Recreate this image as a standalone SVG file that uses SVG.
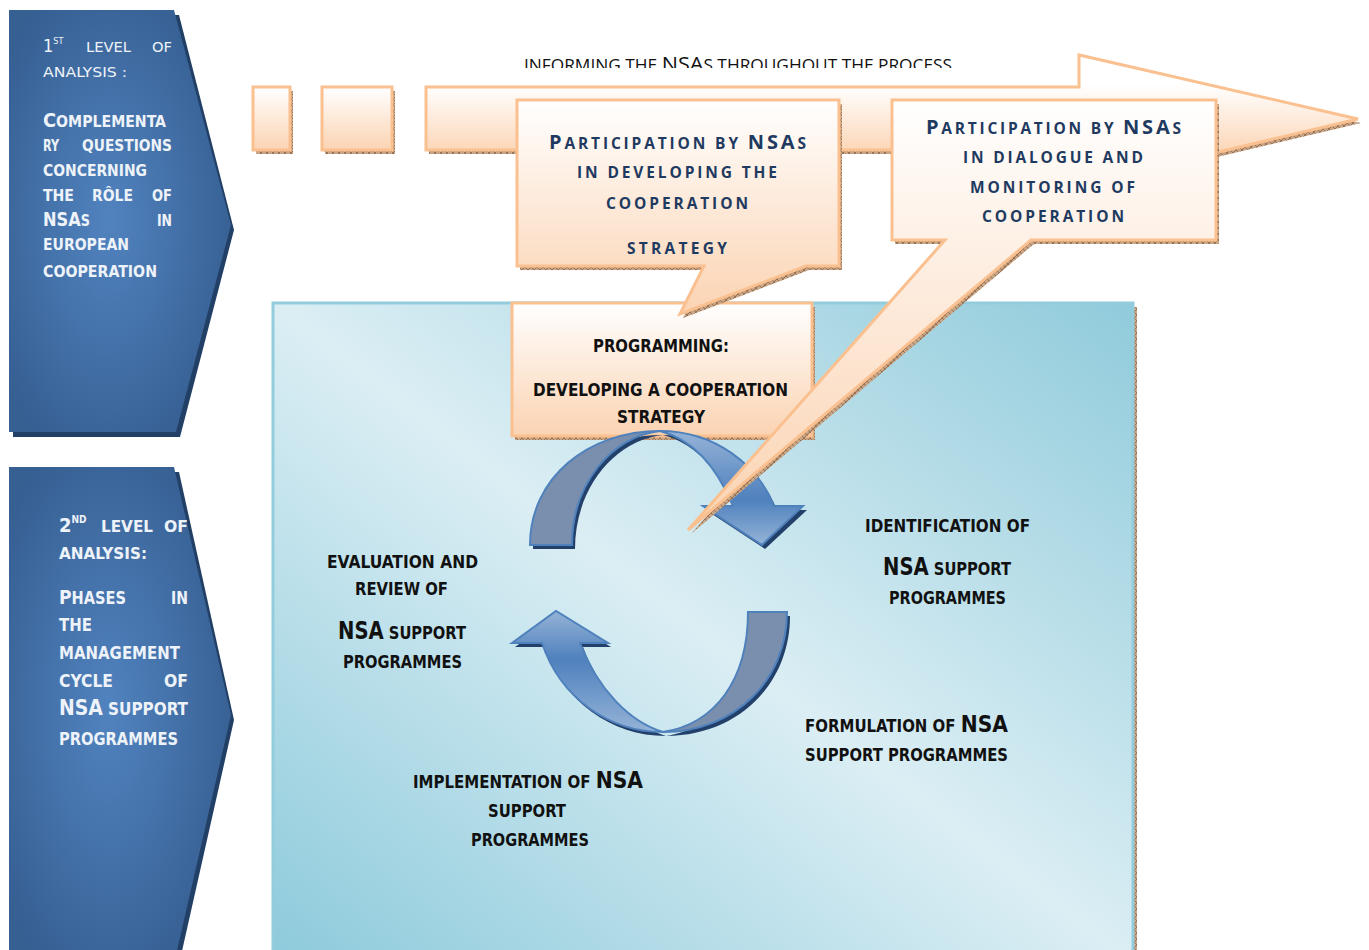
<svg xmlns="http://www.w3.org/2000/svg" width="1369" height="950" viewBox="0 0 1369 950">
<defs>
  <radialGradient id="panelGrad" cx="0.45" cy="0.5" r="0.6">
    <stop offset="0" stop-color="#5183bf"/>
    <stop offset="1" stop-color="#365f92"/>
  </radialGradient>
  <linearGradient id="peachV" x1="0" y1="0" x2="0" y2="1">
    <stop offset="0" stop-color="#ffffff"/>
    <stop offset="1" stop-color="#fbd3b2"/>
  </linearGradient>
  <linearGradient id="arrowGrad" gradientUnits="userSpaceOnUse" x1="0" y1="85" x2="0" y2="160">
    <stop offset="0" stop-color="#ffffff"/>
    <stop offset="1" stop-color="#fbd1ae"/>
  </linearGradient>
  <linearGradient id="boxGrad" x1="1" y1="0" x2="0" y2="1">
    <stop offset="0" stop-color="#90cbdb"/>
    <stop offset="0.5" stop-color="#dbeef4"/>
    <stop offset="1" stop-color="#8ccadb"/>
  </linearGradient>
  <linearGradient id="frontTop" x1="0" y1="0" x2="0" y2="1">
    <stop offset="0" stop-color="#95b3d7"/>
    <stop offset="0.6" stop-color="#4f81bd"/>
    <stop offset="1" stop-color="#95b3d7"/>
  </linearGradient>
  <linearGradient id="frontBot" x1="0" y1="1" x2="0" y2="0">
    <stop offset="0" stop-color="#95b3d7"/>
    <stop offset="0.6" stop-color="#4f81bd"/>
    <stop offset="1" stop-color="#95b3d7"/>
  </linearGradient>
  <pattern id="hatch" width="6" height="6" patternUnits="userSpaceOnUse">
    <rect width="6" height="6" fill="#c9a585"/>
    <path d="M0,6 L6,0 M0,0 L6,6" stroke="#8d6646" stroke-width="0.8"/>
  </pattern>
  <clipPath id="topClip"><rect x="0" y="0" width="1369" height="68"/></clipPath>
  <style>
    .panel { fill: url(#panelGrad); }
    .pshadow { fill: #223f66; }
    .ptxt { font-family: "DejaVu Sans Condensed", "DejaVu Sans", sans-serif; font-stretch: condensed; fill: #eef3f9; font-weight: bold; }
    .plight { font-weight: normal; }
    .peach { stroke: #fac090; stroke-width: 3; }
    .hshadow { fill: url(#hatch); }
    .ctxt { font-family: "Open Sans", "Noto Sans", sans-serif; font-weight: 700; fill: #1f3a60; }
    .ltxt { font-family: "DejaVu Sans Condensed", "DejaVu Sans", sans-serif; font-stretch: condensed; font-weight: bold; fill: #111111; }
    .toptxt { font-family: "Open Sans", "Noto Sans", sans-serif; fill: #111111; }
    .back { fill: #7a8fae; stroke: #4f81bd; stroke-width: 2; }
    .cshadow { fill: #22406a; }
  </style>
</defs>

<g id="panel1">
  <polygon class="pshadow" points="13,15 179,15 234,230 180,437 13,437"/>
  <polygon class="panel" points="9,10 174,10 231,225 176,432 9,432"/>
  <text class="ptxt plight" x="43" y="52" font-size="18">1<tspan font-size="9" dy="-8">ST</tspan></text>
  <text class="ptxt plight" x="86" y="52" font-size="14" textLength="45" lengthAdjust="spacingAndGlyphs">LEVEL</text>
  <text class="ptxt plight" x="152" y="52" font-size="14" textLength="20" lengthAdjust="spacingAndGlyphs">OF</text>
  <text class="ptxt plight" x="43" y="77" font-size="14" textLength="84" lengthAdjust="spacingAndGlyphs">ANALYSIS :</text>
  <text class="ptxt" x="43" y="127" font-size="15" textLength="123" lengthAdjust="spacingAndGlyphs"><tspan font-size="19">C</tspan>OMPLEMENTA</text>
  <text class="ptxt" x="43" y="151" font-size="15" textLength="16" lengthAdjust="spacingAndGlyphs">RY</text>
  <text class="ptxt" x="82" y="151" font-size="15" textLength="90" lengthAdjust="spacingAndGlyphs">QUESTIONS</text>
  <text class="ptxt" x="43" y="176" font-size="15" textLength="104" lengthAdjust="spacingAndGlyphs">CONCERNING</text>
  <text class="ptxt" x="43" y="201" font-size="15" textLength="31" lengthAdjust="spacingAndGlyphs">THE</text>
  <text class="ptxt" x="92" y="201" font-size="15" textLength="41" lengthAdjust="spacingAndGlyphs">RÔLE</text>
  <text class="ptxt" x="152" y="201" font-size="15" textLength="20" lengthAdjust="spacingAndGlyphs">OF</text>
  <text class="ptxt" x="43" y="226" font-size="15" textLength="47" lengthAdjust="spacingAndGlyphs"><tspan font-size="19">NSA</tspan>S</text>
  <text class="ptxt" x="157" y="226" font-size="15" textLength="15" lengthAdjust="spacingAndGlyphs">IN</text>
  <text class="ptxt" x="43" y="250" font-size="15" textLength="86" lengthAdjust="spacingAndGlyphs">EUROPEAN</text>
  <text class="ptxt" x="43" y="277" font-size="15" textLength="114" lengthAdjust="spacingAndGlyphs">COOPERATION</text>
</g>

<g id="panel2">
  <polygon class="pshadow" points="13,472 179,472 234,720 180,960 13,960"/>
  <polygon class="panel" points="9,467 174,467 231,715 176,955 9,955"/>
  <text class="ptxt" x="59" y="532" font-size="20">2<tspan font-size="10" dy="-9">ND</tspan></text>
  <text class="ptxt" x="101" y="532" font-size="16" textLength="52" lengthAdjust="spacingAndGlyphs">LEVEL</text>
  <text class="ptxt" x="164" y="532" font-size="16" textLength="24" lengthAdjust="spacingAndGlyphs">OF</text>
  <text class="ptxt" x="59" y="559" font-size="16" textLength="88" lengthAdjust="spacingAndGlyphs">ANALYSIS:</text>
  <text class="ptxt" x="59" y="604" font-size="17" textLength="67" lengthAdjust="spacingAndGlyphs"><tspan font-size="20">P</tspan>HASES</text>
  <text class="ptxt" x="171" y="604" font-size="17" textLength="17" lengthAdjust="spacingAndGlyphs">IN</text>
  <text class="ptxt" x="59" y="631" font-size="17" textLength="33" lengthAdjust="spacingAndGlyphs">THE</text>
  <text class="ptxt" x="59" y="659" font-size="17" textLength="121" lengthAdjust="spacingAndGlyphs">MANAGEMENT</text>
  <text class="ptxt" x="59" y="687" font-size="17" textLength="54" lengthAdjust="spacingAndGlyphs">CYCLE</text>
  <text class="ptxt" x="164" y="687" font-size="17" textLength="24" lengthAdjust="spacingAndGlyphs">OF</text>
  <text class="ptxt" x="59" y="715" font-size="17" textLength="129" lengthAdjust="spacingAndGlyphs"><tspan font-size="21">NSA</tspan> SUPPORT</text>
  <text class="ptxt" x="59" y="745" font-size="17" textLength="119" lengthAdjust="spacingAndGlyphs">PROGRAMMES</text>
</g>

<g id="informing-label">
  <text class="toptxt" x="524" y="71" font-size="16" textLength="428" lengthAdjust="spacingAndGlyphs" clip-path="url(#topClip)">INFORMING THE <tspan font-size="20">NSA</tspan>S THROUGHOUT THE PROCESS</text>
</g>

<g id="process-arrow">
  <path class="hshadow" d="M429,91 H1082 V59 L1361,123 L1082,189 V154 H429 Z"/>
  <path class="peach" fill="url(#arrowGrad)" d="M426,87 H1079 V55 L1358,119 L1079,185 V150 H426 Z"/>
</g>

<g id="stub1">
  <rect class="hshadow" x="256" y="91" width="37" height="63"/>
  <rect class="peach" fill="url(#peachV)" x="253" y="87" width="37" height="63"/>
</g>
<g id="stub2">
  <rect class="hshadow" x="325" y="91" width="70" height="63"/>
  <rect class="peach" fill="url(#peachV)" x="322" y="87" width="70" height="63"/>
</g>

<g id="cycle-box">
  <rect class="hshadow" x="277" y="307" width="860" height="660"/>
  <rect x="273" y="303" width="860" height="660" fill="url(#boxGrad)" stroke="#93cddd" stroke-width="3"/>
</g>

<g id="programming">
  <rect class="hshadow" x="515" y="307" width="300" height="133"/>
  <rect class="peach" fill="url(#peachV)" x="512" y="303" width="300" height="133"/>
  <text class="ltxt" x="593" y="352" font-size="17" textLength="136" lengthAdjust="spacingAndGlyphs">PROGRAMMING:</text>
  <text class="ltxt" x="533" y="396" font-size="17" textLength="255" lengthAdjust="spacingAndGlyphs">DEVELOPING A COOPERATION</text>
  <text class="ltxt" x="617" y="423" font-size="17" textLength="88" lengthAdjust="spacingAndGlyphs">STRATEGY</text>
</g>

<g id="connectors">
  <g id="cycle-arrow-top">
    <path class="cshadow" d="M533,549 C533,482 591,435 663,435 C718,435 761,469 777,510 L807,510 L765,549 L706,510 L736,510 C721,474 698,444 663,435 C615,440 575,488 575,549 Z"/>
    <path class="back" d="M530,545 C530,478 588,431 660,431 C612,436 572,484 572,545 Z"/>
    <path fill="url(#frontTop)" stroke="#4f81bd" stroke-width="2" d="M660,431 C715,431 758,465 774,506 L803,506 L762,545 L703,506 L733,506 C718,470 695,440 660,431 Z"/>
  </g>
  <g id="cycle-arrow-bottom">
    <path class="cshadow" d="M790,616 C790,684 738,736 666,736 C611,736 563,701 545,647 L515,647 L559,615 L611,647 L583,647 C601,694 633,726 666,736 C718,728 751,684 751,616 Z"/>
    <path class="back" d="M787,612 C787,680 735,732 663,732 C715,724 748,680 748,612 Z"/>
    <path fill="url(#frontBot)" stroke="#4f81bd" stroke-width="2" d="M663,732 C608,732 560,697 542,643 L512,643 L556,611 L608,643 L580,643 C598,690 630,722 663,732 Z"/>
  </g>
</g>

<g id="callout-strategy">
  <path class="hshadow" d="M520,104 H842 V270 H809 L683,318 L707,270 H520 Z"/>
  <path class="peach" fill="url(#peachV)" d="M517,100 H839 V266 H806 L680,314 L704,266 H517 Z"/>
  <text class="ctxt" x="549" y="149" font-size="15.5" textLength="257" lengthAdjust="spacing"><tspan font-size="20">P</tspan>ARTICIPATION BY <tspan font-size="20">NSA</tspan>S</text>
  <text class="ctxt" x="577" y="178" font-size="15.5" textLength="200" lengthAdjust="spacing">IN DEVELOPING THE</text>
  <text class="ctxt" x="606" y="209" font-size="15.5" textLength="142" lengthAdjust="spacing">COOPERATION</text>
  <text class="ctxt" x="627" y="254" font-size="15.5" textLength="100" lengthAdjust="spacing">STRATEGY</text>
</g>

<g id="callout-dialogue">
  <path class="hshadow" d="M895,104 H1219 V244 H1034 L691,534 L948,244 H895 Z"/>
  <path class="peach" fill="url(#peachV)" d="M892,100 H1216 V240 H1031 L688,530 L945,240 H892 Z"/>
  <text class="ctxt" x="926" y="134" font-size="15.5" textLength="255" lengthAdjust="spacing"><tspan font-size="20">P</tspan>ARTICIPATION BY <tspan font-size="20">NSA</tspan>S</text>
  <text class="ctxt" x="963" y="163" font-size="15.5" textLength="180" lengthAdjust="spacing">IN DIALOGUE AND</text>
  <text class="ctxt" x="970" y="193" font-size="15.5" textLength="165" lengthAdjust="spacing">MONITORING OF</text>
  <text class="ctxt" x="982" y="222" font-size="15.5" textLength="142" lengthAdjust="spacing">COOPERATION</text>
</g>

<g id="evaluation">
  <text class="ltxt" x="327" y="568" font-size="17" textLength="151" lengthAdjust="spacingAndGlyphs">EVALUATION AND</text>
  <text class="ltxt" x="355" y="595" font-size="17" textLength="93" lengthAdjust="spacingAndGlyphs">REVIEW OF</text>
  <text class="ltxt" x="338" y="639" font-size="18" textLength="128" lengthAdjust="spacingAndGlyphs"><tspan font-size="24">NSA</tspan> SUPPORT</text>
  <text class="ltxt" x="343" y="668" font-size="17" textLength="119" lengthAdjust="spacingAndGlyphs">PROGRAMMES</text>
</g>

<g id="identification">
  <text class="ltxt" x="865" y="532" font-size="17" textLength="165" lengthAdjust="spacingAndGlyphs">IDENTIFICATION OF</text>
  <text class="ltxt" x="883" y="575" font-size="18" textLength="128" lengthAdjust="spacingAndGlyphs"><tspan font-size="24">NSA</tspan> SUPPORT</text>
  <text class="ltxt" x="889" y="604" font-size="17" textLength="117" lengthAdjust="spacingAndGlyphs">PROGRAMMES</text>
</g>

<g id="formulation">
  <text class="ltxt" x="805" y="732" font-size="17" textLength="203" lengthAdjust="spacingAndGlyphs">FORMULATION OF <tspan font-size="23">NSA</tspan></text>
  <text class="ltxt" x="805" y="761" font-size="17" textLength="203" lengthAdjust="spacingAndGlyphs">SUPPORT PROGRAMMES</text>
</g>

<g id="implementation">
  <text class="ltxt" x="413" y="788" font-size="17" textLength="230" lengthAdjust="spacingAndGlyphs">IMPLEMENTATION OF <tspan font-size="23">NSA</tspan></text>
  <text class="ltxt" x="488" y="817" font-size="17" textLength="78" lengthAdjust="spacingAndGlyphs">SUPPORT</text>
  <text class="ltxt" x="471" y="846" font-size="17" textLength="118" lengthAdjust="spacingAndGlyphs">PROGRAMMES</text>
</g>
</svg>
